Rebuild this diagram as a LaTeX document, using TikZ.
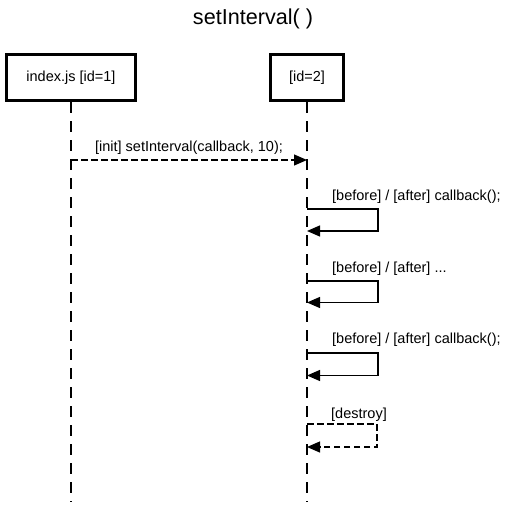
\documentclass[tikz,border=0pt]{standalone}
\usepackage{fontspec}
\setmainfont{Liberation Sans}
\usetikzlibrary{arrows.meta, positioning, calc}

\begin{document}
\begin{tikzpicture}[x=1pt, y=-1pt,
  actor/.style={draw, line width=3pt, minimum height=46pt, font=\fontsize{14.5}{17}\selectfont},
  lifeline/.style={line width=1.2pt, dash pattern=on 11pt off 8pt},
  msg/.style={line width=1.2pt, -{Triangle[length=13pt, width=11pt]}},
  ret/.style={msg, dash pattern=on 6.5pt off 3.5pt},
  lbl/.style={anchor=base west, inner sep=0pt, font=\fontsize{14.5}{17}\selectfont}]
\useasboundingbox (0,0) rectangle (507,508);

% Title
\node[font=\fontsize{21.6}{24}\selectfont] (title) at (253,19) {setInterval( )};

% Actors
\node[actor, minimum width=129pt] (idx) at (71,77.5) {index.js [id=1]};
\node[actor, minimum width=73pt] (tmr) at (307,77.5) {[id=2]};

% Lifelines
\coordinate (idxend) at (71,502);
\coordinate (tmrend) at (307,502);
\draw[lifeline] (idx.south) -- (idxend);
\draw[lifeline] (tmr.south) -- (tmrend);

% Init message
\coordinate (init1) at (71,160);
\coordinate (init2) at (307,160);
\draw[ret] (init1) -- node[above=2pt] (initlbl) {\fontsize{14.5}{17}\selectfont [init] setInterval(callback, 10);} (init2);

% First callback
\coordinate (cb1) at (307,209);
\coordinate (cb1end) at (307,231);
\draw[msg] (cb1) -- ++(71,0) -- ++(0,22) -- (cb1end);
\node[lbl] (cb1lbl) at (332,200) {[before] / [after] callback();};

% More callbacks
\coordinate (cb2) at (307,281);
\coordinate (cb2end) at (307,302.5);
\draw[msg] (cb2) -- ++(71,0) -- ++(0,21.5) -- (cb2end);
\node[lbl] (cb2lbl) at (332,272) {[before] / [after] ...};

% Last callback
\coordinate (cb3) at (307,353);
\coordinate (cb3end) at (307,375.5);
\draw[msg] (cb3) -- ++(71,0) -- ++(0,22.5) -- (cb3end);
\node[lbl] (cb3lbl) at (332,343) {[before] / [after] callback();};

% Destroy
\coordinate (dst) at (307,424);
\coordinate (dstend) at (307,447);
\draw[ret] (dst) -- ++(70,0) -- ++(0,23) -- (dstend);
\node[lbl] (dstlbl) at (331,418) {[destroy]};
\end{tikzpicture}
\end{document}
